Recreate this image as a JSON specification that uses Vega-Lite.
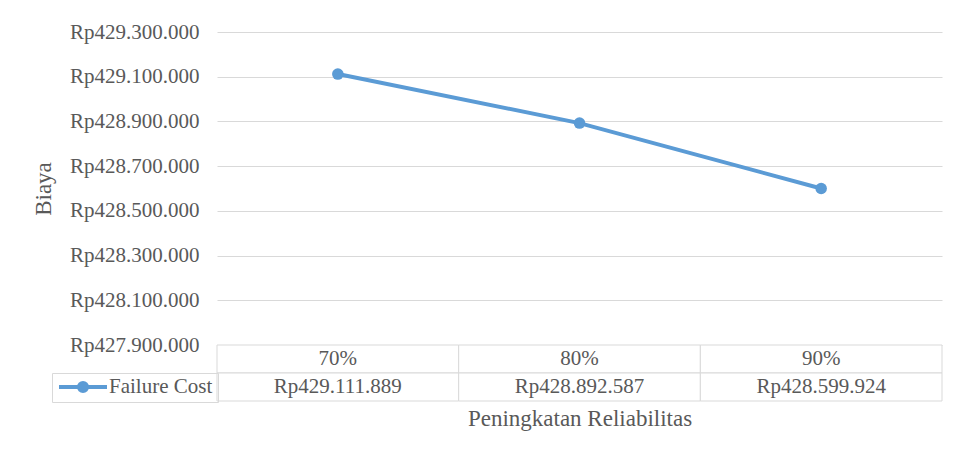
{
  "$schema": "https://vega.github.io/schema/vega-lite/v6.json",
  "padding": {"left": 32, "top": 21, "right": 12, "bottom": 5},
  "background": "white",
  "bounds": "flush",
  "config": {
    "font": "Liberation Serif",
    "axis": {"labelFont": "Liberation Serif", "titleFont": "Liberation Serif"},
    "legend": {"labelFont": "Liberation Serif"},
    "text": {"font": "Liberation Serif"},
    "view": {"stroke": null},
    "locale": {"number": {"decimal": ",", "thousands": ".", "grouping": [3], "currency": ["Rp", ""]}}
  },
  "datasets": {
    "d": [
      {"rel": "70%", "biaya": 429111889},
      {"rel": "80%", "biaya": 428892587},
      {"rel": "90%", "biaya": 428599924}
    ]
  },
  "spacing": 0,
  "vconcat": [
    {
      "width": 725,
      "height": 313,
      "data": {"name": "d"},
      "encoding": {
        "x": {"field": "rel", "type": "ordinal", "scale": {"type": "point", "padding": 0.5}, "axis": null},
        "y": {
          "field": "biaya", "type": "quantitative",
          "scale": {"domain": [427900000, 429300000], "nice": false, "zero": false},
          "axis": {
            "values": [427900000, 428100000, 428300000, 428500000, 428700000, 428900000, 429100000, 429300000],
            "format": "$,.0f",
            "title": "Biaya",
            "domain": false, "ticks": false,
            "gridColor": "#d9d9d9", "gridWidth": 1,
            "labelFontSize": 21, "labelColor": "#595959", "labelPadding": 18,
            "titleFontSize": 23, "titleColor": "#595959", "titleFontWeight": "normal", "titlePadding": 14
          }
        }
      },
      "layer": [
        {
          "mark": {"type": "line", "strokeWidth": 4},
          "encoding": {
            "color": {
              "datum": "Failure Cost", "type": "nominal",
              "scale": {"range": ["#5b9bd5"]},
              "legend": {
                "orient": "none", "legendX": -165, "legendY": 341, "title": null,
                "symbolType": "M-1,0L1,0M-0.17,0A0.17,0.17,0,1,0,0.17,0A0.17,0.17,0,1,0,-0.17,0Z",
                "symbolSize": 2304, "symbolStrokeWidth": 4, "clipHeight": 18,
                "symbolFillColor": "#5b9bd5", "symbolStrokeColor": "#5b9bd5",
                "labelFontSize": 21, "labelColor": "#595959", "labelOffset": 0,
                "strokeColor": "#d9d9d9", "padding": 5
              }
            }
          }
        },
        {"mark": {"type": "point", "filled": true, "size": 133, "opacity": 1, "color": "#5b9bd5"}}
      ]
    },
    {
      "width": 725,
      "height": 56,
      "data": {"name": "d"},
      "encoding": {
        "x": {
          "field": "rel", "type": "nominal",
          "scale": {"type": "band", "paddingInner": 0, "paddingOuter": 0},
          "axis": {"labels": false, "ticks": false, "domain": false, "title": "Peningkatan Reliabilitas",
                   "titleFontSize": 23, "titleColor": "#595959", "titleFontWeight": "normal", "titlePadding": 6}
        }
      },
      "layer": [
        {
          "mark": {"type": "rect", "fill": "white", "stroke": "#d9d9d9", "strokeWidth": 1},
          "encoding": {"y": {"datum": "h", "type": "nominal", "scale": {"type": "band", "domain": ["h", "v"], "paddingInner": 0, "paddingOuter": 0}, "axis": null}}
        },
        {
          "mark": {"type": "rect", "fill": "white", "stroke": "#d9d9d9", "strokeWidth": 1},
          "encoding": {"y": {"datum": "v", "type": "nominal"}}
        },
        {
          "mark": {"type": "text", "fontSize": 21, "color": "#595959", "font": "Liberation Serif"},
          "encoding": {"y": {"datum": "h", "type": "nominal"}, "text": {"field": "rel", "type": "nominal"}}
        },
        {
          "mark": {"type": "text", "fontSize": 21, "color": "#595959", "font": "Liberation Serif"},
          "encoding": {"y": {"datum": "v", "type": "nominal"}, "text": {"field": "biaya", "type": "quantitative", "format": "$,.0f"}}
        }
      ]
    }
  ]
}
